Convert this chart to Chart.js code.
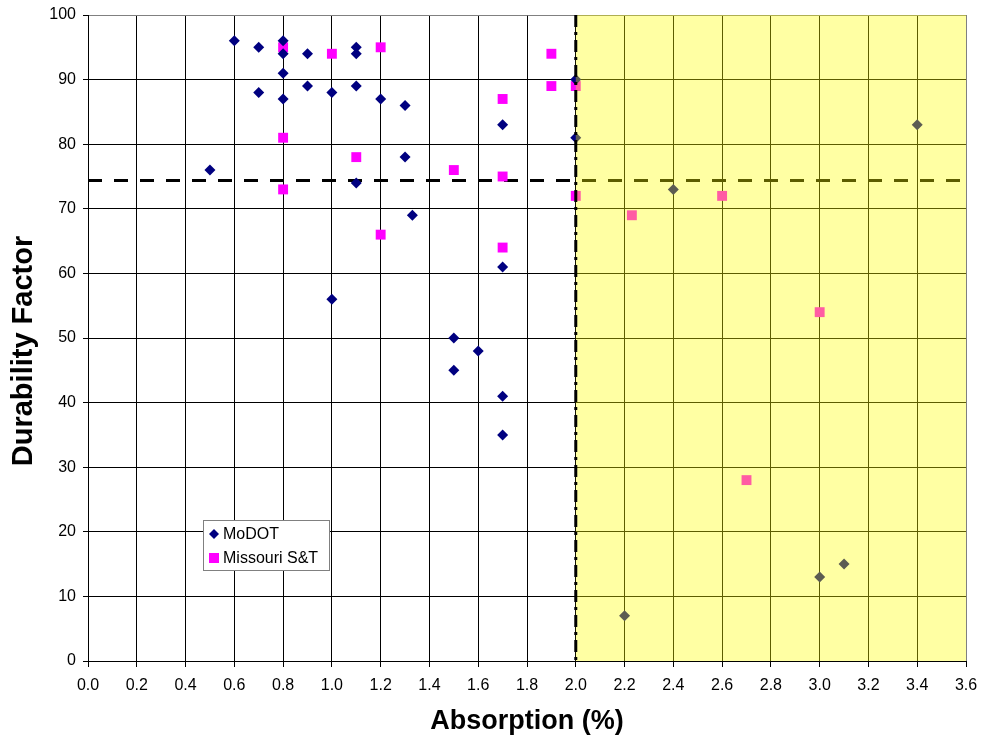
<!DOCTYPE html>
<html>
<head>
<meta charset="utf-8">
<script src="https://cdn.jsdelivr.net/npm/chart.js@4"></script>
<style>
  html, body { margin: 0; padding: 0; background: #fff; }
  #wrap { width: 982px; height: 740px; }
</style>
</head>
<body>
<div id="wrap"><canvas id="c" width="982" height="740"></canvas></div>
<script>
// ---- Data ----
const modotAbsorption = [0.5, 0.6, 0.7, 0.7, 0.8, 0.8, 0.8, 0.8, 0.9, 0.9, 1.0, 1.0, 1.1, 1.1, 1.1, 1.1, 1.2, 1.3, 1.3, 1.33, 1.5, 1.5, 1.6, 1.7, 1.7, 1.7, 1.7, 2.0, 2.0, 2.2, 2.4, 3.0, 3.1, 3.4];
const modotDurability = [76, 96, 95, 88, 96, 94, 91, 87, 94, 89, 88, 56, 95, 94, 89, 74, 87, 86, 78, 69, 50, 45, 48, 83, 61, 41, 35, 90, 81, 7, 73, 13, 15, 83];
const mstAbsorption = [0.8, 0.8, 0.8, 1.0, 1.1, 1.2, 1.2, 1.5, 1.7, 1.7, 1.7, 1.9, 1.9, 2.0, 2.0, 2.23, 2.6, 2.7, 3.0];
const mstDurability = [95, 81, 73, 94, 78, 95, 66, 76, 87, 75, 64, 94, 89, 89, 72, 69, 72, 28, 54];
const seriesNames = ["MoDOT", "Missouri S&T"];
const thresholdDurability = 74.4;
const thresholdAbsorption = 2.0;
const xRange = [0, 3.6];
const yRange = [0, 100];
const xTitle = "Absorption (%)";
const yTitle = "Durability Factor";

const toPts = (xs, ys) => xs.map((x, i) => ({ x: x, y: ys[i] }));

const FONT = "'Liberation Sans', Arial, sans-serif";

// Plugin: yellow overlay, threshold line, legend box, y title
const extras = {
  id: 'extras',
  afterDatasetsDraw(chart) {
    const { ctx, chartArea: a, scales: { x, y } } = chart;
    ctx.save();
    // yellow zone
    const x0 = x.getPixelForValue(thresholdAbsorption);
    const x1 = x.getPixelForValue(xRange[1]);
    const yt = y.getPixelForValue(yRange[1]);
    const yb = y.getPixelForValue(yRange[0]);
    ctx.fillStyle = 'rgba(255,255,0,0.36)';
    ctx.fillRect(x0, yt, x1 - x0, yb - yt);
    // vertical dash-dot threshold line
    ctx.strokeStyle = '#000';
    ctx.lineWidth = 3;
    ctx.setLineDash([12, 5, 3, 5]);
    ctx.beginPath();
    ctx.moveTo(x0, yt);
    ctx.lineTo(x0, yb);
    ctx.stroke();
    ctx.setLineDash([]);
    // legend box
    const lx = a.left + 115, ly = a.top + 505;
    const lw = 126, lh = 50;
    ctx.fillStyle = '#fff';
    ctx.fillRect(lx, ly, lw, lh);
    ctx.strokeStyle = '#808080';
    ctx.lineWidth = 1;
    ctx.strokeRect(lx + 0.5, ly + 0.5, lw, lh);
    ctx.font = '16px ' + FONT;
    ctx.textBaseline = 'middle';
    ctx.textAlign = 'left';
    const r1y = ly + 14, r2y = ly + 38;
    const mx = lx + 11;
    ctx.fillStyle = '#000080';
    ctx.beginPath();
    ctx.moveTo(mx, r1y - 5); ctx.lineTo(mx + 5, r1y); ctx.lineTo(mx, r1y + 5); ctx.lineTo(mx - 5, r1y);
    ctx.closePath(); ctx.fill();
    ctx.fillStyle = '#000';
    ctx.fillText(seriesNames[0], lx + 20, r1y + 1);
    ctx.fillStyle = '#FF00FF';
    ctx.fillRect(mx - 5, r2y - 5, 10, 10);
    ctx.fillStyle = '#000';
    ctx.fillText(seriesNames[1], lx + 20, r2y + 1);
    // y axis title
    ctx.translate(24, (a.top + a.bottom) / 2 + 13);
    ctx.rotate(-Math.PI / 2);
    ctx.font = 'bold 29px ' + FONT;
    ctx.textAlign = 'center';
    ctx.textBaseline = 'middle';
    ctx.fillStyle = '#000';
    ctx.fillText(yTitle, 0, 0);
    ctx.restore();
  }
};

new Chart(document.getElementById('c'), {
  type: 'scatter',
  data: {
    datasets: [
      {
        type: 'line',
        label: 'threshold',
        data: [{ x: xRange[0], y: thresholdDurability }, { x: xRange[1], y: thresholdDurability }],
        borderColor: '#000',
        borderWidth: 3,
        borderDash: [14, 12],
        pointRadius: 0,
        fill: false,
        order: 3
      },
      {
        label: seriesNames[0],
        data: toPts(modotAbsorption, modotDurability),
        pointStyle: 'rectRot',
        pointRadius: 5.5,
        pointHoverRadius: 5.5,
        backgroundColor: '#000080',
        borderColor: '#000080',
        borderWidth: 0,
        order: 1
      },
      {
        label: seriesNames[1],
        data: toPts(mstAbsorption, mstDurability),
        pointStyle: 'rect',
        pointRadius: 7,
        pointHoverRadius: 7,
        backgroundColor: '#FF00FF',
        borderColor: '#FF00FF',
        borderWidth: 0,
        order: 2
      }
    ]
  },
  options: {
    responsive: false,
    animation: false,
    events: [],
    layout: { padding: { top: 15, right: 16, left: 0, bottom: 1 } },
    plugins: { legend: { display: false }, tooltip: { enabled: false } },
    scales: {
      x: {
        type: 'linear',
        min: xRange[0], max: xRange[1],
        afterFit: s => { s.height = 78; s.paddingLeft = 0; s.paddingRight = 0; },
        ticks: {
          stepSize: 0.2,
          color: '#000',
          font: { family: FONT, size: 16 },
          padding: 9,
          maxRotation: 0,
          autoSkip: false,
          callback: v => (Math.round(v * 10) / 10).toFixed(1)
        },
        grid: {
          color: c => (c.tick && Math.abs(c.tick.value - xRange[1]) < 1e-6) ? '#808080' : '#000',
          lineWidth: 1, tickLength: 6, tickColor: '#000', drawTicks: true
        },
        border: { color: '#000', width: 1 },
        title: { display: true, text: xTitle, color: '#000', font: { family: FONT, size: 27, weight: 'bold' }, padding: { top: 0, bottom: 1 } }
      },
      y: {
        type: 'linear',
        min: yRange[0], max: yRange[1],
        afterFit: s => { s.width = 88; s.paddingTop = 0; s.paddingBottom = 0; },
        ticks: {
          stepSize: 10,
          color: '#000',
          font: { family: FONT, size: 16 },
          padding: 7
        },
        grid: {
          color: c => (c.tick && c.tick.value === yRange[1]) ? '#808080' : '#000',
          lineWidth: 1, tickLength: 5, tickColor: '#000', drawTicks: true
        },
        border: { color: '#000', width: 1 },
        title: { display: false, text: yTitle }
      }
    }
  },
  plugins: [extras]
});
</script>
</body>
</html>
